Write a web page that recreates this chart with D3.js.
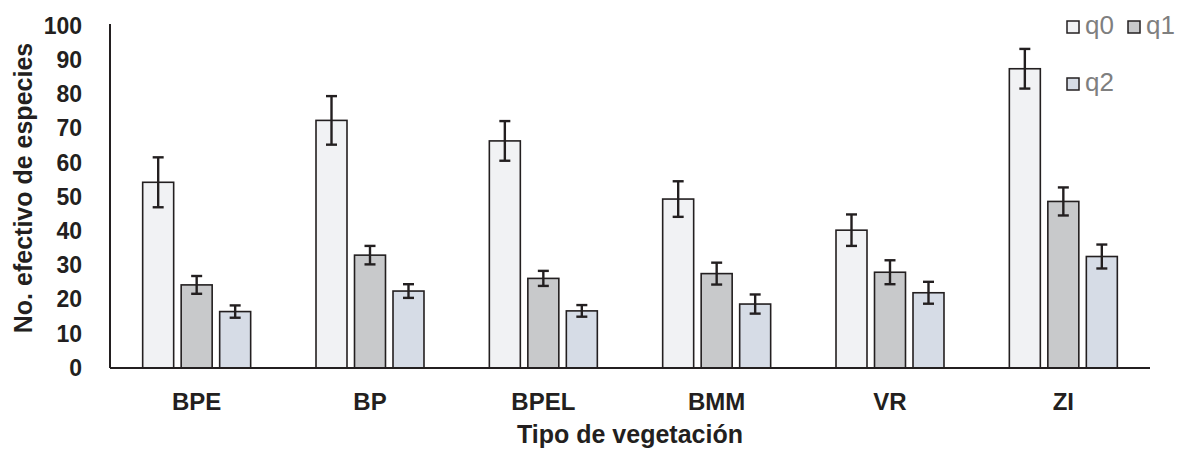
<!DOCTYPE html>
<html>
<head>
<meta charset="utf-8">
<script src="https://cdn.jsdelivr.net/npm/d3@7/dist/d3.min.js"></script>
<style>
  html, body { margin: 0; padding: 0; background: #fff; }
  svg { display: block; font-family: "Liberation Sans", Arial, sans-serif; }
</style>
</head>
<body>
<svg id="chart" width="1183" height="450"></svg>
<script>
// Vegetation types and the three diversity orders
const categories = ["BPE", "BP", "BPEL", "BMM", "VR", "ZI"];
const seriesNames = ["q0", "q1", "q2"];

// Effective number of species per vegetation type
const q0 = [54.3, 72.4, 66.4, 49.4, 40.3, 87.5];
const q1 = [24.3, 33.0, 26.2, 27.6, 28.0, 48.7];
const q2 = [16.5, 22.5, 16.7, 18.7, 22.0, 32.6];

// Error bar half-lengths
const q0Err = [7.3, 7.1, 5.8, 5.2, 4.6, 5.8];
const q1Err = [2.6, 2.7, 2.2, 3.2, 3.5, 4.1];
const q2Err = [1.8, 2.0, 1.7, 2.8, 3.2, 3.5];

const yTicks = [0, 10, 20, 30, 40, 50, 60, 70, 80, 90, 100];

const fills = { q0: "#f1f2f4", q1: "#c8c9cb", q2: "#d6dce6" };
const ink = "#231f20";

const values = { q0, q1, q2 };
const errors = { q0: q0Err, q1: q1Err, q2: q2Err };

const svg = d3.select("#chart");

const plotLeft = 110, plotRight = 1150, plotTop = 26, plotBottom = 368;

const x = d3.scaleBand().domain(categories).range([plotLeft, plotRight])
  .paddingInner(0.377).paddingOuter(0.1885);
const xs = d3.scaleBand().domain(seriesNames).range([0, x.bandwidth()])
  .paddingInner(0.195).paddingOuter(0);
const y = d3.scaleLinear().domain([0, 100]).range([plotBottom, plotTop]);

// Bars
const groups = svg.append("g").selectAll("g")
  .data(categories).join("g")
  .attr("transform", d => `translate(${x(d)},0)`);

seriesNames.forEach(s => {
  groups.append("rect")
    .attr("x", xs(s))
    .attr("width", xs.bandwidth())
    .attr("y", (d, i) => y(values[s][i]))
    .attr("height", (d, i) => y(0) - y(values[s][i]))
    .attr("fill", fills[s])
    .attr("stroke", ink)
    .attr("stroke-width", 1.6);
});

// Error bars
const capHalf = 5.5;
seriesNames.forEach(s => {
  const cx = xs(s) + xs.bandwidth() / 2;
  const eb = groups.append("g")
    .attr("stroke", ink).attr("stroke-width", 2.4).attr("fill", "none");
  eb.append("line")
    .attr("x1", cx).attr("x2", cx)
    .attr("y1", (d, i) => y(values[s][i] + errors[s][i]))
    .attr("y2", (d, i) => y(values[s][i] - errors[s][i]));
  eb.append("line")
    .attr("x1", cx - capHalf).attr("x2", cx + capHalf)
    .attr("y1", (d, i) => y(values[s][i] + errors[s][i]))
    .attr("y2", (d, i) => y(values[s][i] + errors[s][i]));
  eb.append("line")
    .attr("x1", cx - capHalf).attr("x2", cx + capHalf)
    .attr("y1", (d, i) => y(values[s][i] - errors[s][i]))
    .attr("y2", (d, i) => y(values[s][i] - errors[s][i]));
});

// Y axis
const yAxis = svg.append("g")
  .attr("transform", `translate(${plotLeft},0)`)
  .call(d3.axisLeft(y).tickValues(yTicks).tickSize(0).tickPadding(28).tickFormat(d3.format("d")));
yAxis.select(".domain").attr("stroke", ink).attr("stroke-width", 2)
  .attr("d", `M0,${plotTop - 2}V${plotBottom}`);
yAxis.selectAll("text")
  .attr("fill", ink).attr("font-size", 23).attr("font-weight", "bold")
  .attr("font-family", "'Liberation Sans', Arial, sans-serif");

// X axis
const xAxis = svg.append("g")
  .attr("transform", `translate(0,${plotBottom})`)
  .call(d3.axisBottom(x).tickSize(0).tickPadding(25));
xAxis.select(".domain").attr("stroke", ink).attr("stroke-width", 2.2)
  .attr("d", `M${plotLeft},0H${plotRight}`);
xAxis.selectAll("text")
  .attr("fill", ink).attr("font-size", 24).attr("font-weight", "bold")
  .attr("font-family", "'Liberation Sans', Arial, sans-serif");

// Axis titles
svg.append("text")
  .attr("x", (plotLeft + plotRight) / 2).attr("y", 443)
  .attr("text-anchor", "middle")
  .attr("font-size", 25).attr("font-weight", "bold").attr("fill", ink)
  .text("Tipo de vegetación");

svg.append("text")
  .attr("transform", `translate(32,${188}) rotate(-90)`)
  .attr("text-anchor", "middle")
  .attr("font-size", 25).attr("font-weight", "bold").attr("fill", ink)
  .text("No. efectivo de especies");

// Legend
const legendPos = [
  { s: "q0", x: 1067, y: 21 },
  { s: "q1", x: 1128, y: 21 },
  { s: "q2", x: 1067, y: 78 }
];
const legend = svg.append("g").selectAll("g")
  .data(legendPos).join("g")
  .attr("transform", d => `translate(${d.x},${d.y})`);
legend.append("rect")
  .attr("width", 12).attr("height", 12)
  .attr("fill", d => fills[d.s])
  .attr("stroke", ink).attr("stroke-width", 1.5);
legend.append("text")
  .attr("x", 18).attr("y", 12.5)
  .attr("font-size", 26).attr("fill", "#7f7f7f")
  .text(d => d.s);
</script>
</body>
</html>
